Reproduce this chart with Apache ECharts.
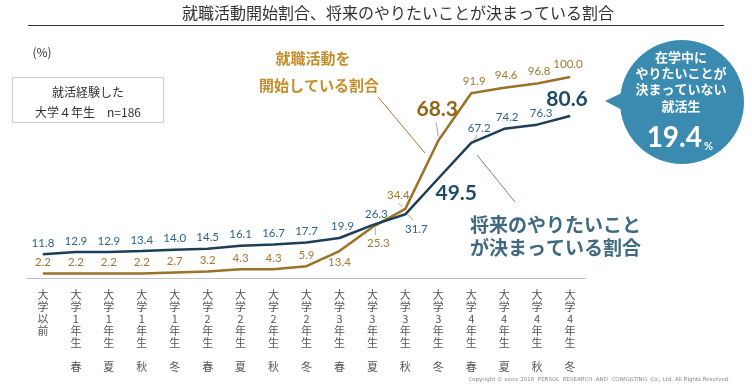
<!DOCTYPE html>
<html><head><meta charset="utf-8">
<script src="https://cdn.jsdelivr.net/npm/echarts@6/dist/echarts.min.js"></script>
<style>html,body{margin:0;padding:0;background:#fff}#c{width:752px;height:390px}</style>
</head><body><div id="c"></div>
<script>
var grades = ['大学以前','大学1年生','大学1年生','大学1年生','大学1年生','大学2年生','大学2年生','大学2年生','大学2年生','大学3年生','大学3年生','大学3年生','大学3年生','大学4年生','大学4年生','大学4年生','大学4年生'];
var seasons = ['','春','夏','秋','冬','春','夏','秋','冬','春','夏','秋','冬','春','夏','秋','冬'];
var futureDecided = [11.8,12.9,12.9,13.4,14.0,14.5,16.1,16.7,17.7,19.9,26.3,31.7,49.5,67.2,74.2,76.3,80.6];
var jobStarted = [2.2,2.2,2.2,2.2,2.7,3.2,4.3,4.3,5.9,13.4,25.3,34.4,68.3,91.9,94.6,96.8,100.0];

var categories = grades.map(function(g,i){return g + (seasons[i] ? ' ' + seasons[i] : '');});

var DARK='#1d3f55', DARKL='#2f6581', GOLD='#9a7228', GOLDL='#a07a33';
var NUMFONT='Lato, "Noto Sans CJK JP", sans-serif';
var JP='"Noto Sans CJK JP", sans-serif';

// label placement tweaks (style only)
var darkTweaks = {10:{offset:[4,0]},11:{position:'bottom',offset:[11,4]},12:{position:'bottom',offset:[18,-1],big:true},13:{offset:[8,-3]},14:{offset:[3,0]},15:{offset:[4,0]},16:{offset:[-3,-1],big:true},9:{offset:[3,0]}};
var goldTweaks = {9:{position:'bottom'},10:{position:'bottom',offset:[6,5]},11:{offset:[-7,-2]},12:{offset:[-1,-15],big:true},13:{offset:[3,-1]},14:{offset:[2,-1]},15:{offset:[2,-1]},16:{offset:[-2,-1]}};

function buildData(vals, tweaks, col, bigCol){
  return vals.map(function(v,i){
    var t = tweaks[i]; var d = {value:v};
    if(t){
      d.label = {position:t.position||'top', offset:t.offset||[0,0]};
      if(t.big){ d.label.fontSize=21; d.label.fontWeight='bold'; d.label.color=bigCol; }
    }
    return d;
  });
}

var chart = echarts.init(document.getElementById('c'));
var option = {
  animation:false,
  grid:{left:26.5,right:165.5,top:77,bottom:112},
  xAxis:{type:'category',data:categories,boundaryGap:true,
    axisLine:{show:true,lineStyle:{color:'#bbb',type:'dotted',width:1}},
    axisTick:{show:false},
    axisLabel:{interval:0,margin:11,color:'#555',fontSize:11,lineHeight:12,fontFamily:JP,
      formatter:function(v,i){var g=grades[i].replace('大学','大学').split('');return g.join('\n') + (seasons[i]?'\n\n'+seasons[i]:'');}}
  },
  yAxis:{type:'value',min:0,max:100,show:false,splitLine:{show:false}},
  series:[
    {name:'将来のやりたいことが決まっている割合',type:'line',data:buildData(futureDecided,darkTweaks,DARKL,'#1e4c66'),
      symbol:'circle',symbolSize:1,itemStyle:{color:DARK},lineStyle:{color:DARK,width:2.5},z:3,
      label:{show:true,position:'top',distance:5,color:DARKL,fontSize:11.5,fontFamily:NUMFONT,formatter:function(p){return p.value.toFixed(1);}}},
    {name:'就職活動を開始している割合',type:'line',data:buildData(jobStarted,goldTweaks,GOLDL,'#946614'),
      symbol:'circle',symbolSize:1,itemStyle:{color:GOLD},lineStyle:{color:GOLD,width:2.5},z:2,
      label:{show:true,position:'top',distance:5,color:GOLDL,fontSize:11.5,fontFamily:NUMFONT,formatter:function(p){return p.value.toFixed(1);}}}
  ]
};
chart.setOption(option);

function px(s,i,v){return chart.convertToPixel({seriesIndex:s},[i,v]);}
var leaders = [];
function lead(s,i,v,a,b){var p=px(s,i,v);leaders.push({type:'line',silent:true,z:1,shape:{x1:p[0]+a[0],y1:p[1]+a[1],x2:p[0]+b[0],y2:p[1]+b[1]},style:{stroke:'#aaa',lineWidth:1}});}
lead(1,12,jobStarted[12],[0,-4],[-2,-18]);
lead(1,11,jobStarted[11],[-7,-6],[-3,-2]);
lead(0,11,futureDecided[11],[2,0],[8,6]);
lead(1,10,jobStarted[10],[3,1],[3,8]);
lead(0,13,futureDecided[13],[2,-1],[6,-8]);

var g = [
  {type:'text',left:null,x:398,y:13,style:{text:'就職活動開始割合、将来のやりたいことが決まっている割合',fill:'#333',font:'16px '+JP,textAlign:'center',textVerticalAlign:'middle'}},
  {type:'line',shape:{x1:28,y1:25.5,x2:724,y2:25.5},style:{stroke:'#333',lineWidth:1}},
  {type:'text',x:42,y:52,style:{text:'(%)',fill:'#333',font:'12px '+JP,textAlign:'center',textVerticalAlign:'middle'}},
  {type:'rect',shape:{x:12.5,y:77.5,width:151,height:45},style:{fill:'#fff',stroke:'#ccc',lineWidth:1}},
  {type:'text',x:88,y:92,style:{text:'就活経験した',fill:'#333',font:'12px '+JP,textAlign:'center',textVerticalAlign:'middle'}},
  {type:'text',x:88,y:112,style:{text:'大学４年生　n=186',fill:'#333',font:'12px '+JP,textAlign:'center',textVerticalAlign:'middle'}},
  {type:'text',x:313,y:58,style:{text:'就職活動を',fill:'#c68d2b',font:'bold 15px '+JP,textAlign:'center',textVerticalAlign:'middle'}},
  {type:'text',x:319,y:85,style:{text:'開始している割合',fill:'#c68d2b',font:'bold 15px '+JP,textAlign:'center',textVerticalAlign:'middle'}},
  {type:'line',shape:{x1:378,y1:97,x2:425,y2:153},style:{stroke:'#a07a33',lineWidth:1}},
  {type:'text',x:470,y:225,style:{text:'将来のやりたいこと',fill:'#3f6a82',font:'bold 19px '+JP,textAlign:'left',textVerticalAlign:'middle'}},
  {type:'text',x:470,y:248,style:{text:'が決まっている割合',fill:'#3f6a82',font:'bold 19px '+JP,textAlign:'left',textVerticalAlign:'middle'}},
  {type:'line',shape:{x1:477,y1:155,x2:515,y2:202},style:{stroke:'#5f88a0',lineWidth:1}},
  {type:'polygon',shape:{points:[[605,101],[630,89],[630,114]]},style:{fill:'#3b8bb0'}},
  {type:'circle',shape:{cx:682,cy:102,r:62},style:{fill:'#3b8bb0'}},
  {type:'text',x:681,y:57,style:{text:'在学中に',fill:'#fff',font:'bold 13px '+JP,textAlign:'center',textVerticalAlign:'middle'}},
  {type:'text',x:681,y:73,style:{text:'やりたいことが',fill:'#fff',font:'bold 13px '+JP,textAlign:'center',textVerticalAlign:'middle'}},
  {type:'text',x:681,y:89,style:{text:'決まっていない',fill:'#fff',font:'bold 13px '+JP,textAlign:'center',textVerticalAlign:'middle'}},
  {type:'text',x:681,y:106,style:{text:'就活生',fill:'#fff',font:'bold 13px '+JP,textAlign:'center',textVerticalAlign:'middle'}},
  {type:'text',x:702,y:138,style:{text:'19.4',fill:'#fff',font:'bold 28px '+NUMFONT,textAlign:'right',textVerticalAlign:'middle'}},
  {type:'text',x:704,y:146,style:{text:'%',fill:'#fff',font:'bold 11px '+NUMFONT,textAlign:'left',textVerticalAlign:'middle'}},
  {type:'text',x:730,y:380,style:{text:'Copyright © since 2016  PERSOL  RESEARCH  AND  CONSULTING  Co., Ltd. All Rights Reserved.',fill:'#888',font:'5.5px Verdana, "DejaVu Sans", sans-serif',textAlign:'right',textVerticalAlign:'middle'}}
].concat(leaders);
chart.setOption({graphic:g});
</script></body></html>
